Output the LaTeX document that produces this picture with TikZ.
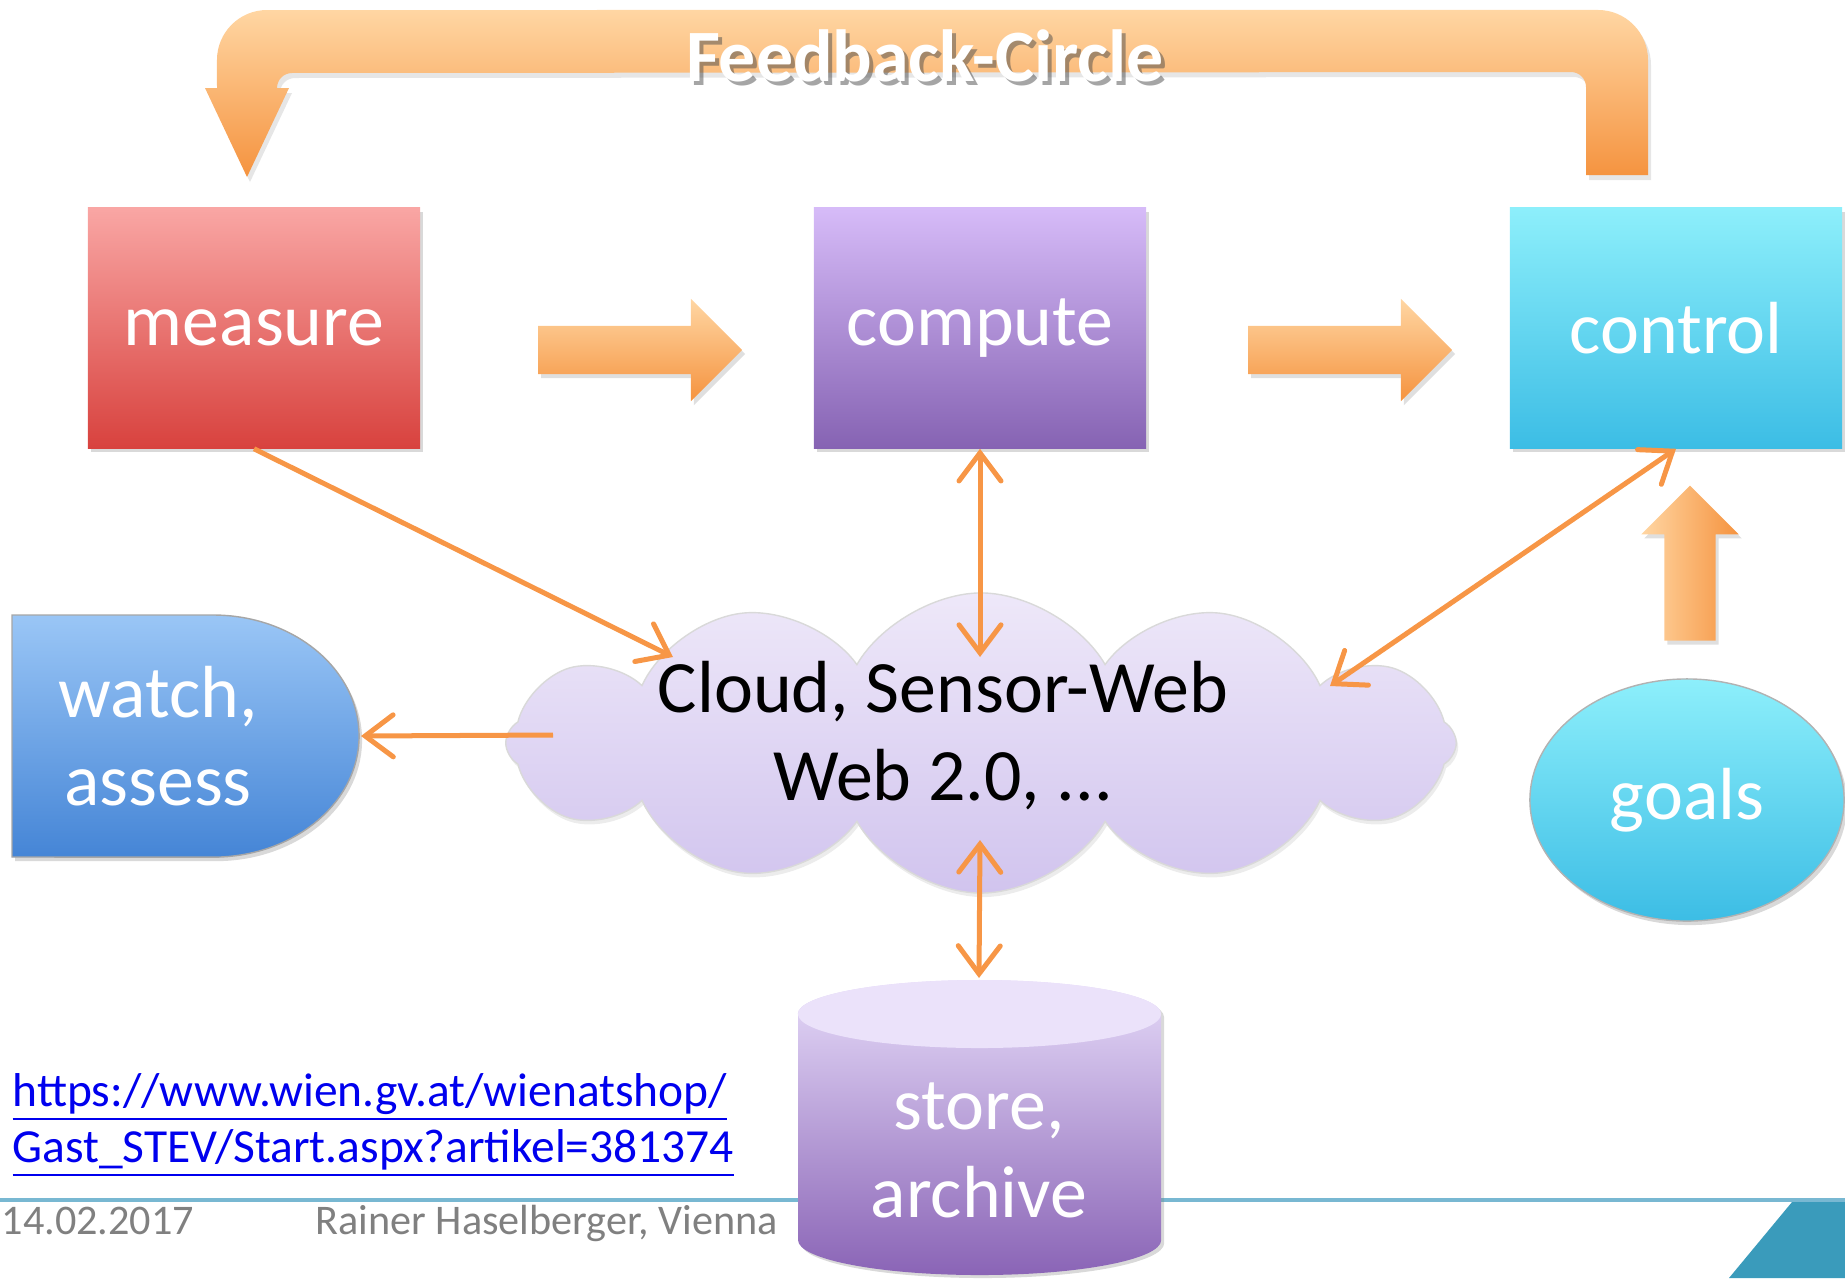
\documentclass[tikz,border=0pt]{standalone}
\usepackage{fontspec}
\setmainfont{Carlito}
\usepackage{xcolor}
\usetikzlibrary{arrows.meta,positioning,calc,shapes.geometric,shapes.symbols,shapes.arrows,shadows}
\definecolor{lineorange}{HTML}{F79646}
\definecolor{arrowlight}{HTML}{FFD6A3}
\definecolor{arrowdark}{HTML}{F5933F}
\definecolor{measuretop}{HTML}{F9A6A4}
\definecolor{measurebot}{HTML}{D8423E}
\definecolor{computetop}{HTML}{D6BBF8}
\definecolor{computebot}{HTML}{8663B3}
\definecolor{controltop}{HTML}{8DEFFB}
\definecolor{controlbot}{HTML}{3CBDE5}
\definecolor{watchtop}{HTML}{9AC6F6}
\definecolor{watchbot}{HTML}{4585D6}
\definecolor{cloudtop}{HTML}{EEE8F9}
\definecolor{cloudbot}{HTML}{D1C4EE}
\definecolor{storetop}{HTML}{E6DBF9}
\definecolor{storebot}{HTML}{8A64B6}
\definecolor{footline}{HTML}{78B8D2}
\definecolor{footteal}{HTML}{3A9BBB}
\definecolor{linkblue}{HTML}{0000EE}
\newcommand{\boxfont}{\fontsize{21}{25}\selectfont}
\tikzset{box/.style={rectangle,inner sep=0pt,minimum width=3.32cm,minimum height=2.40cm,text=white,font=\boxfont,
    drop shadow={opacity=0.3,shadow xshift=0.03cm,shadow yshift=-0.04cm}}}
\tikzset{blockarrow/.style={single arrow,single arrow head extend=0.27cm,inner sep=0.235cm,minimum height=2.04cm,
    top color=arrowlight,bottom color=arrowdark,drop shadow={opacity=0.25,shadow xshift=0.03cm,shadow yshift=-0.04cm}}}
\tikzset{conn/.style={draw=lineorange,line width=0.05cm}}

\begin{document}
\begin{tikzpicture}[x=0.01cm, y=-0.01cm, >={Straight Barb[length=0.28cm,width=0.42cm,line cap=round]}]
\useasboundingbox (0,0) rectangle (1845,1278);

    % footer
    \draw[footline, line width=0.04cm] (0,1200) -- (1845,1200);
    \fill[footteal] (1729,1278) -- (1792,1202) -- (1845,1202) -- (1845,1278) -- cycle;
    \node[anchor=base west,inner sep=0pt,text=gray,font=\fontsize{12}{14}\selectfont] (date) at (1,1234) {14.02.2017};
    \node[anchor=base west,inner sep=0pt,text=gray,font=\fontsize{12}{14}\selectfont] (author) at (315,1234) {Rainer Haselberger, Vienna};

    % feedback loop
    \path[top color=arrowlight,bottom color=arrowdark,drop shadow={opacity=0.2,shadow xshift=0.03cm,shadow yshift=-0.05cm}]
      (1648,175) -- (1648,60) arc[start angle=0,end angle=90,radius=0.5cm] -- (267,10)
      arc[start angle=90,end angle=180,radius=0.5cm] -- (217,88) -- (205,88) -- (247,177) -- (289,88) -- (277,88)
      arc[start angle=180,end angle=90,radius=0.15cm] -- (1571,72)
      arc[start angle=90,end angle=0,radius=0.15cm] -- (1586,175) -- cycle;
    \node[text=black!70,opacity=0.5,font=\fontsize{21}{25}\selectfont\bfseries] (fbshade) at (929,60) {Feedback-Circle};
    \node[text=white,font=\fontsize{21}{25}\selectfont\bfseries] (fb) at (925,56) {Feedback-Circle};

    % boxes
    \node[box,top color=measuretop,bottom color=measurebot] (measure) at (254,328) {measure};
    \node[box,top color=computetop,bottom color=computebot] (compute) at (980,328) {compute};
    \node[box,top color=controltop,bottom color=controlbot] (control) at (1676,328) {control};
    \node[blockarrow] (m2c) at (628,350) {};
    \node[blockarrow] (c2k) at (1338,350) {};

    % cloud
    \node[cloud,cloud puffs=12,cloud puff arc=120,aspect=3.2,minimum width=9.5cm,minimum height=3.0cm,
      top color=cloudtop,bottom color=cloudbot,draw=black!15,
      drop shadow={opacity=0.15,shadow xshift=0.02cm,shadow yshift=-0.04cm}] (cloud) at (981,743) {};
    \node[align=center,font=\boxfont] (cloudtxt) at (943,736) {Cloud, Sensor-Web\\Web 2.0, ...};
    \coordinate (cl-m) at (673,657);
    \coordinate (cl-c) at (980,657);
    \coordinate (cl-k) at (1330,686);
    \coordinate (cl-w) at (553,735);
    \coordinate (cl-s) at (980,840);

    % watch, assess
    \path[top color=watchtop,bottom color=watchbot,draw=black!35,drop shadow={opacity=0.3,shadow xshift=0.03cm,shadow yshift=-0.04cm}]
      (12,615) -- (213,615) arc[start angle=90,end angle=-90,x radius=1.46cm,y radius=1.21cm] -- (12,857) -- cycle;
    \node[align=center,text=white,font=\boxfont] (watch) at (158,736) {watch,\\assess};
    \coordinate (watch-e) at (361,736);

    % goals
    \node[ellipse,inner sep=0pt,minimum width=3.14cm,minimum height=2.42cm,top color=controltop,bottom color=controlbot,
      draw=black!30,text=white,font=\boxfont,drop shadow={opacity=0.3,shadow xshift=0.03cm,shadow yshift=-0.04cm}] (goals) at (1687,800) {goals};
    \node[single arrow,shape border rotate=90,single arrow head extend=0.23cm,inner sep=0.25cm,minimum height=1.55cm,
      left color=arrowlight,right color=arrowdark,drop shadow={opacity=0.25,shadow xshift=0.03cm,shadow yshift=-0.04cm}] (g2k) at (1690,576) {};

    % store, archive
    \path[top color=storetop,bottom color=storebot,drop shadow={opacity=0.3,shadow xshift=0.03cm,shadow yshift=-0.03cm}]
      (798,1014) -- (798,1240) arc[start angle=180,end angle=360,x radius=1.815cm,y radius=0.35cm]
      -- (1161,1014) arc[start angle=0,end angle=180,x radius=1.815cm,y radius=0.34cm] -- cycle;
    \fill[storetop!80!white] (979.5,1014) ellipse[x radius=1.815cm,y radius=0.34cm];
    \node[align=center,text=white,font=\boxfont] (store) at (979,1150) {store,\\archive};
    \coordinate (store-top) at (979,978);

    % link
    \node[anchor=west,align=left,text=linkblue,font=\fontsize{13.5}{16}\selectfont,inner sep=0pt] (url) at (12,1125)
      {\underline{https://www.wien.gv.at/wienatshop/}\\\underline{Gast\_STEV/Start.aspx?artikel=381374}};

    % connectors
    \draw[conn,->] (measure.south) -- (cl-m);
    \draw[conn,<->] (compute.south) -- (cl-c);
    \draw[conn,<->] (control.south) -- (cl-k);
    \draw[conn,->] (cl-w) -- (watch-e);
    \draw[conn,<->] (cl-s) -- (store-top);
\end{tikzpicture}
\end{document}
